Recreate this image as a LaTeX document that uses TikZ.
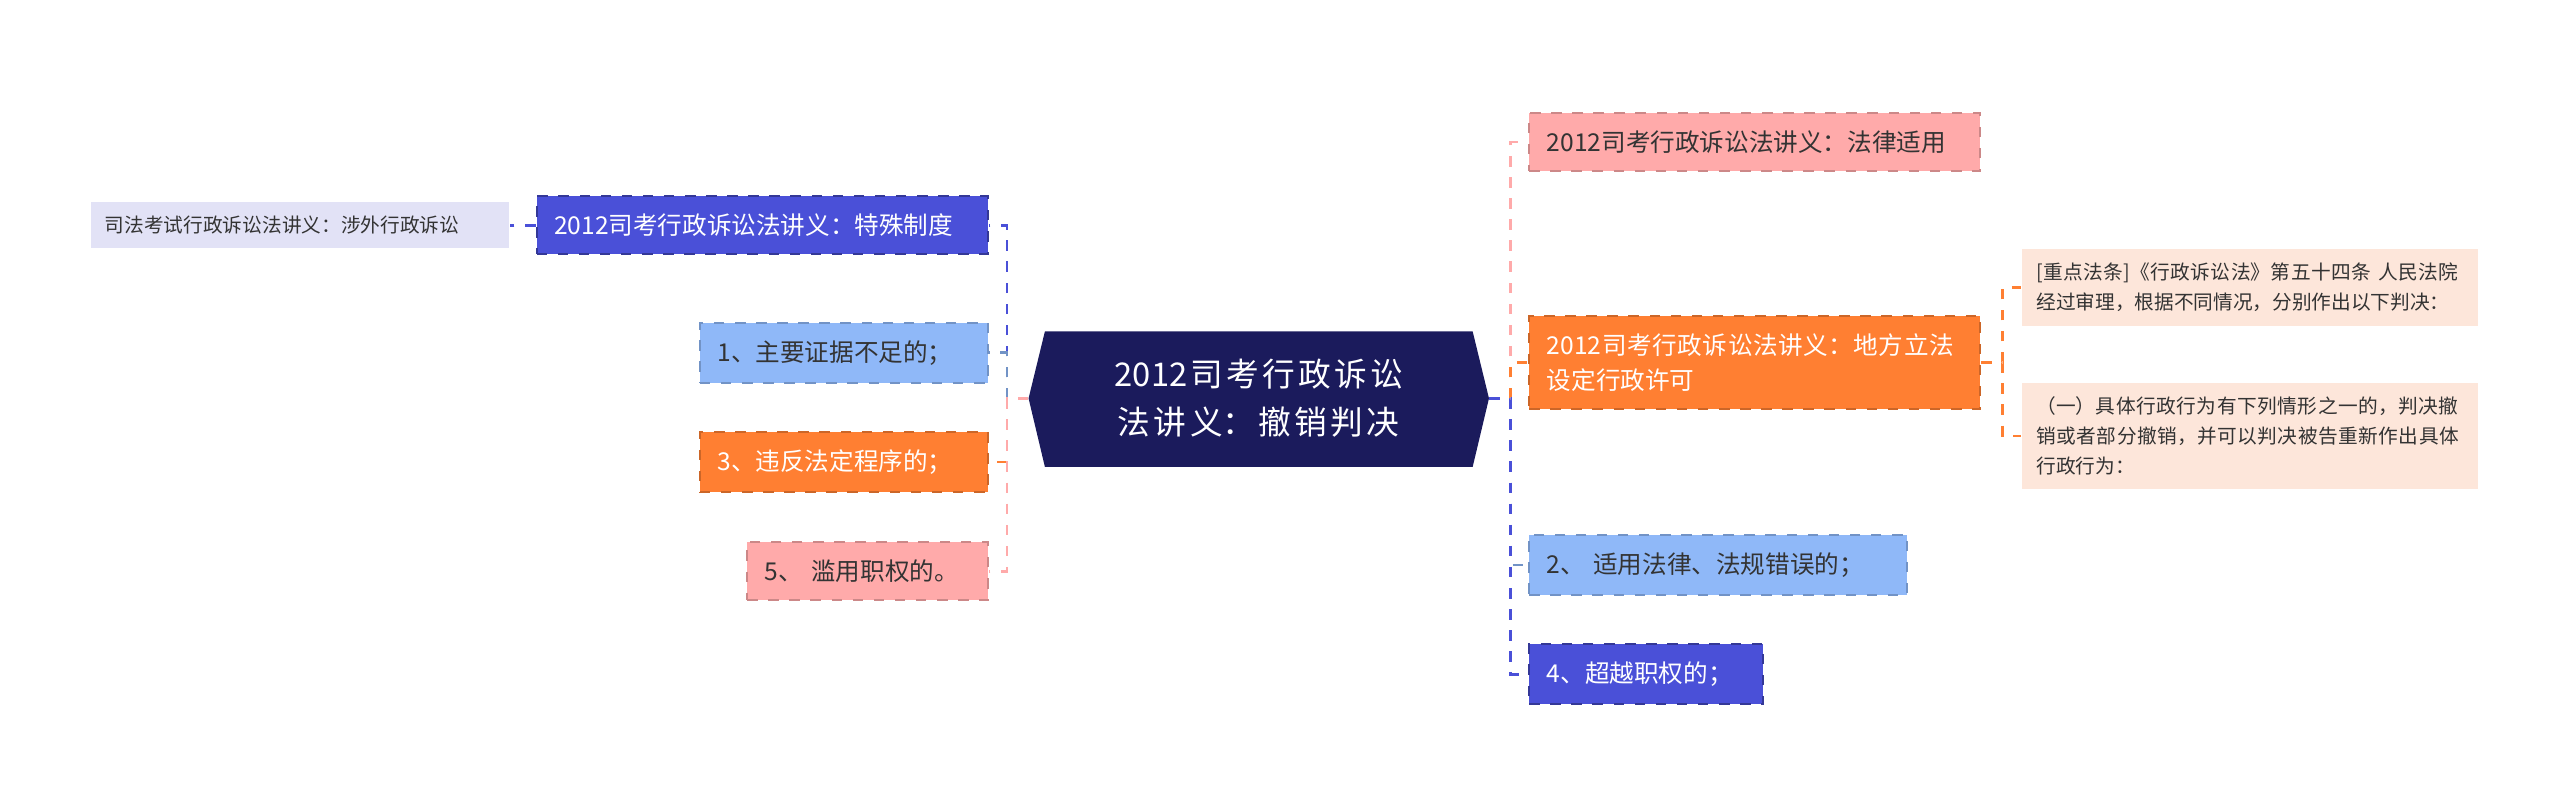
\documentclass[tikz,border=0pt]{standalone}
\usepackage{fontspec}
\setmainfont{Noto Sans CJK SC}
\XeTeXlinebreaklocale "zh"
\XeTeXlinebreakskip=0pt plus 1pt
\definecolor{navy}{HTML}{1B1B5C}
\definecolor{violet}{HTML}{4A50D8}
\definecolor{skyb}{HTML}{8FB8F8}
\definecolor{orng}{HTML}{FF7F32}
\definecolor{pnk}{HTML}{FFAAAA}
\definecolor{lav}{HTML}{E2E2F6}
\definecolor{peach}{HTML}{FDE6DA}
\tikzset{
  box/.style={anchor=west, align=left, inner sep=5pt, dashed, line width=0.6pt, font=\fontsize{7}{10}\selectfont},
  vbox/.style={box, fill=violet, draw=violet!70!black, text=white},
  bbox/.style={box, fill=skyb, draw=skyb!80!black, text=black!80},
  obox/.style={box, fill=orng, draw=orng!80!black, text=white},
  pbox/.style={box, fill=pnk, draw=pnk!80!black, text=black!80},
  smallbox/.style={box, inner sep=4pt, font=\fontsize{5.6}{8.5}\selectfont, text=black!80, draw=none},
  link/.style={dashed, line width=0.7pt}
}
\begin{document}
\begin{tikzpicture}[x=0.01633cm, y=-0.01633cm]
  \useasboundingbox (0,0) rectangle (1568,489);

  % root
  \fill[navy] (630,244) -- (640,203) -- (902,203) -- (912,244) -- (902,286) -- (640,286) -- cycle;
  \node[text=white, minimum width=4.6cm, text width=4.08cm, align=center, inner sep=0pt,
    font=\fontsize{9.3}{13.5}\selectfont] (root) at (771,244) {2012司考行政诉讼法讲义：撤销判决};

  % left side
  \node[vbox, text width=4.16cm] (spec) at (328,138) {2012司考行政诉讼法讲义：特殊制度};
  \node[smallbox, fill=lav, text width=3.9cm] (foreign) at (55,138) {司法考试行政诉讼法讲义：涉外行政诉讼};
  \node[bbox, text width=2.53cm] (evid) at (428,216) {1、主要证据不足的；};
  \node[obox, text width=2.53cm] (proc) at (428,283) {3、违反法定程序的；};
  \node[pbox, text width=2.06cm] (abuse) at (457,350) {5、 滥用职权的。};

  % right side
  \node[pbox, text width=4.16cm] (law) at (936,87) {2012司考行政诉讼法讲义：法律适用};
  \node[obox, text width=4.16cm] (local) at (936,222) {2012司考行政诉讼法讲义：地方立法设定行政许可};
  \node[bbox, text width=3.43cm] (wrong) at (936,346) {2、 适用法律、法规错误的；};
  \node[vbox, text width=1.99cm] (excess) at (936,413) {4、超越职权的；};
  \node[smallbox, fill=peach, text width=4.28cm] (art) at (1238,176) {[重点法条]《行政诉讼法》第五十四条  人民法院经过审理，根据不同情况，分别作出以下判决：};
  \node[smallbox, fill=peach, text width=4.28cm] (first) at (1238,267) {（一）具体行政行为有下列情形之一的，判决撤销或者部分撤销，并可以判决被告重新作出具体行政行为：};

  % connectors
  \draw[link, violet] (root.west) -- ++(-13,0) |- (spec.east);
  \draw[link, violet] (spec.west) -- (foreign.east);
  \draw[link, skyb!80!black] (root.west) -- ++(-13,0) |- (evid.east);
  \draw[link, orng] (root.west) -- ++(-13,0) |- (proc.east);
  \draw[link, pnk] (root.west) -- ++(-13,0) |- (abuse.east);
  \draw[link, pnk] (root.east) -- ++(13,0) |- (law.west);
  \draw[link, orng] (root.east) -- ++(13,0) |- (local.west);
  \draw[link, skyb!80!black] (root.east) -- ++(13,0) |- (wrong.west);
  \draw[link, violet] (root.east) -- ++(13,0) |- (excess.west);
  \draw[link, orng] (local.east) -- ++(13,0) |- (art.west);
  \draw[link, orng] (local.east) -- ++(13,0) |- (first.west);
\end{tikzpicture}
\end{document}
